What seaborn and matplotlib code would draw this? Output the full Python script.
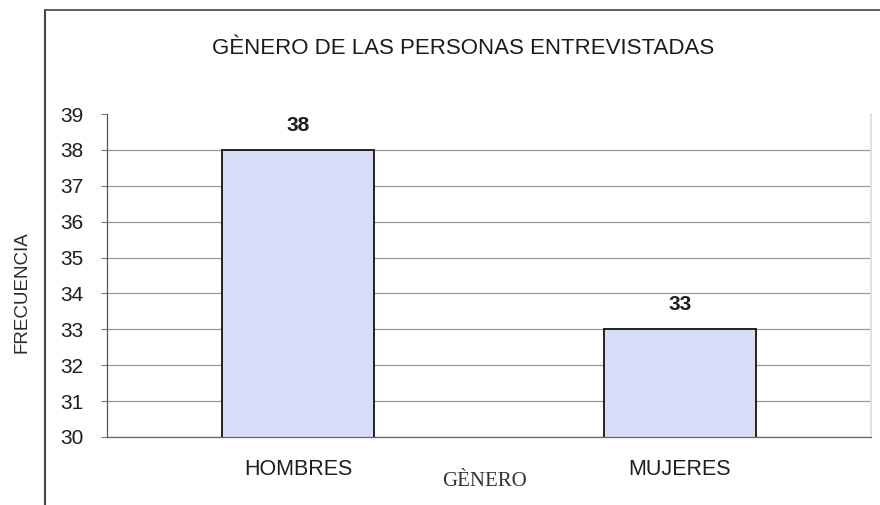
import matplotlib
matplotlib.use("Agg")
import matplotlib.pyplot as plt
import seaborn as sns
import pandas as pd
from matplotlib.lines import Line2D

categories = ["HOMBRES", "MUJERES"]
values = [38, 33]
y_ticks = [30, 31, 32, 33, 34, 35, 36, 37, 38, 39]
title = "GÈNERO DE LAS PERSONAS ENTREVISTADAS"
x_label = "GÈNERO"
y_label = "FRECUENCIA"

sns.set_theme(style="white")
plt.rcParams['font.family'] = ['Liberation Sans', 'DejaVu Sans']

df = pd.DataFrame({"genero": categories, "frecuencia": values})

fig = plt.figure(figsize=(8.8, 5.05), dpi=100)
ax = fig.add_axes([107/880, 1 - 437/505, (871 - 107)/880, (437 - 114)/505])

sns.barplot(data=df, x="genero", y="frecuencia", ax=ax, color="#d9dcf6",
            edgecolor="#222222", linewidth=1.4, width=0.4, saturation=1)

ax.set_ylim(30, 39)
ax.set_xlim(-0.5, 1.5)
ax.set_yticks(y_ticks)
ax.set_yticklabels([str(t) for t in y_ticks], fontsize=15, color="#1e1e1e")
ax.yaxis.grid(True, color="#9a9a9a", linewidth=0.9)
ax.set_axisbelow(True)
ax.tick_params(axis="y", length=4, width=0.8, color="#777777", left=True, pad=13)
ax.tick_params(axis="x", length=0, pad=16, labelsize=15.5, labelcolor="#1e1e1e")

# no gridline at the top value (39)
gl = ax.yaxis.get_gridlines()
gl[-1].set_visible(False)

ax.spines["top"].set_visible(False)
ax.spines["right"].set_color("#dddddd")
ax.spines["left"].set_color("#555555")
ax.spines["left"].set_linewidth(0.9)
ax.spines["bottom"].set_color("#666666")
ax.spines["bottom"].set_linewidth(0.9)

ax.set_xlabel("")
ax.set_ylabel("")

for cont in ax.containers:
    ax.bar_label(cont, labels=[str(v) for v in values], padding=11,
                 fontsize=15, fontweight="bold", color="#1e1e1e")

fig.text(463/880, 1 - 48/505, title, ha="center", va="center",
         fontsize=16, color="#1a1a1a")
fig.text(22/880, 1 - 292/505, y_label, rotation=90, ha="center", va="center",
         fontsize=13.5, color="#2a2a2a")
fig.text(484/880, 1 - 482/505, x_label, ha="center", va="center",
         fontsize=15, color="#333333", family=["Liberation Serif", "DejaVu Serif"])

# chart border
fig.add_artist(Line2D([45/880, 45/880], [0, 1 - 10/505], color="#444444", linewidth=1.5,
                      transform=fig.transFigure))
fig.add_artist(Line2D([45/880, 1], [1 - 10/505, 1 - 10/505], color="#555555", linewidth=1.3,
                      transform=fig.transFigure))

fig.savefig("out.png", dpi=100, facecolor="white")
